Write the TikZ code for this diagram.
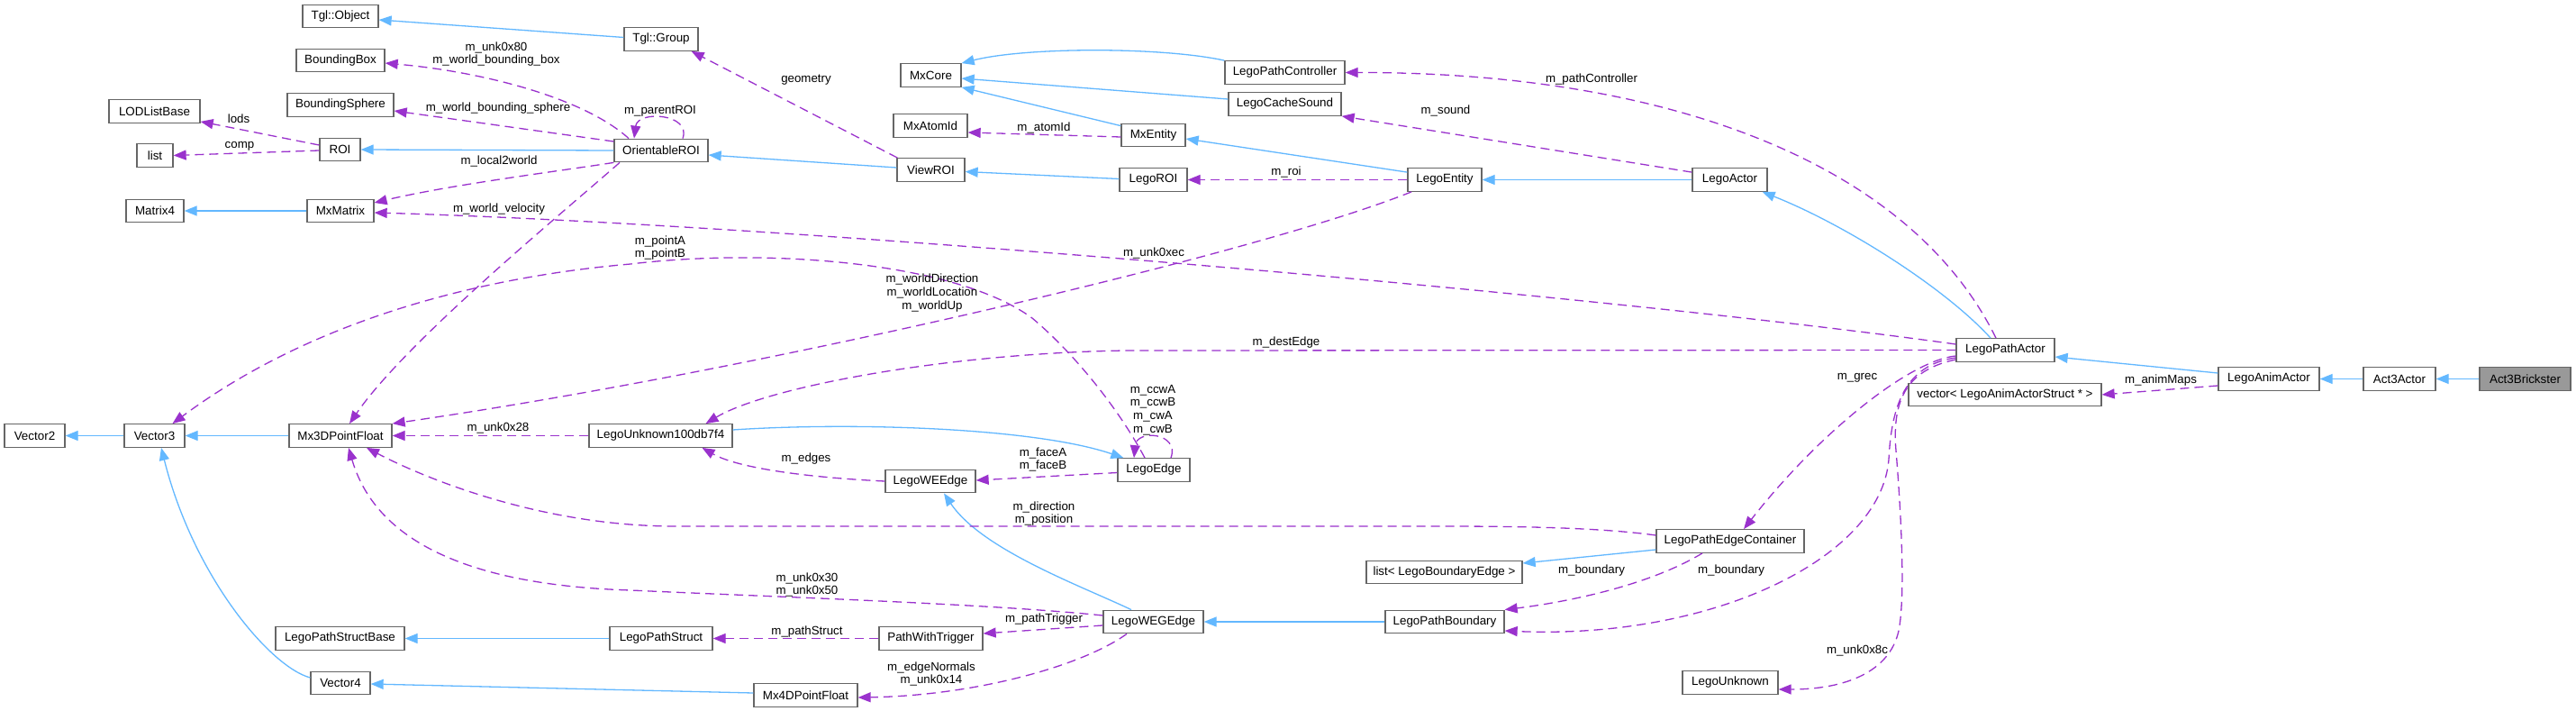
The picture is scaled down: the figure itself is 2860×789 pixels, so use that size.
\documentclass[tikz,border=0pt]{standalone}
\usepackage{fontspec}
\setmainfont{Liberation Sans}
\usetikzlibrary{arrows.meta}
\definecolor{inhc}{HTML}{63B8FF}
\definecolor{usec}{HTML}{9A32CD}
\definecolor{boxc}{HTML}{666666}
\definecolor{selc}{HTML}{999999}
\begin{document}
\begin{tikzpicture}[x=1pt,y=-1pt,
 cls/.style={draw=boxc,line width=1.3pt,fill=white,minimum height=25.5pt,inner sep=0pt,font=\fontsize{13.4}{15}\selectfont,anchor=center},
 inh/.style={draw=inhc,line width=1.3pt,-{Triangle[length=14pt,width=11pt]}},
 use/.style={draw=usec,line width=1.3pt,dash pattern=on 10pt off 6pt,-{Triangle[length=14pt,width=11pt]}},
 lbl/.style={font=\fontsize{13.3}{14.7}\selectfont,align=center,inner sep=0pt}]
\fill[white] (0,0) rectangle (2860,789);
\useasboundingbox (0,0) rectangle (2860,789);

% ---------- nodes ----------
\node[cls,minimum width=84pt] (tglobj) at (378,18) {Tgl::Object};
\node[cls,minimum width=98pt] (bbox) at (378,67) {BoundingBox};
\node[cls,minimum width=118pt] (bsph) at (378,116.5) {BoundingSphere};
\node[cls,minimum width=101pt] (lod) at (171.5,123.5) {LODListBase};
\node[cls,minimum width=40pt] (list) at (172,172.5) {list};
\node[cls,minimum width=45pt] (roi) at (377.5,166) {ROI};
\node[cls,minimum width=64pt] (mat4) at (172,234) {Matrix4};
\node[cls,minimum width=74pt] (mxmat) at (378,234) {MxMatrix};
\node[cls,minimum width=104pt] (orient) at (734,167) {OrientableROI};
\node[cls,minimum width=82pt] (tglgrp) at (734,43.5) {Tgl::Group};
\node[cls,minimum width=67pt] (mxcore) at (1033.5,83.5) {MxCore};
\node[cls,minimum width=82pt] (atom) at (1033,139.5) {MxAtomId};
\node[cls,minimum width=71pt] (mxent) at (1280.5,150) {MxEntity};
\node[cls,minimum width=75pt] (viewroi) at (1033.5,188.5) {ViewROI};
\node[cls,minimum width=75pt] (legoroi) at (1280.5,199.5) {LegoROI};
\node[cls,minimum width=133pt] (pathctl) at (1426.5,80.5) {LegoPathController};
\node[cls,minimum width=125pt] (csound) at (1426.5,115.5) {LegoCacheSound};
\node[cls,minimum width=82pt] (entity) at (1604,199.5) {LegoEntity};
\node[cls,minimum width=83pt] (actor) at (1920.5,199.5) {LegoActor};
\node[cls,minimum width=109pt] (pactor) at (2226.5,388.5) {LegoPathActor};
\node[cls,minimum width=214pt] (vec) at (2226,438) {vector< LegoAnimActorStruct * >};
\node[cls,minimum width=112pt] (anim) at (2519,420.5) {LegoAnimActor};
\node[cls,minimum width=80pt] (act3) at (2664,420.5) {Act3Actor};
\node[cls,minimum width=101pt,fill=selc] (brick) at (2803.5,420.5) {Act3Brickster};
\node[cls,minimum width=67pt] (v2) at (38.5,483.5) {Vector2};
\node[cls,minimum width=67pt] (v3) at (171.5,483.5) {Vector3};
\node[cls,minimum width=114pt] (p3d) at (378,483.5) {Mx3DPointFloat};
\node[cls,minimum width=159pt] (lu) at (733.5,483.5) {LegoUnknown100db7f4};
\node[cls,minimum width=143pt] (psbase) at (377.5,708.5) {LegoPathStructBase};
\node[cls,minimum width=114pt] (pstruct) at (734,708.5) {LegoPathStruct};
\node[cls,minimum width=66pt] (v4) at (378,758) {Vector4};
\node[cls,minimum width=80pt] (edge) at (1281,521.5) {LegoEdge};
\node[cls,minimum width=100pt] (weedge) at (1033,534) {LegoWEEdge};
\node[cls,minimum width=111pt] (wegedge) at (1280.5,690) {LegoWEGEdge};
\node[cls,minimum width=115pt] (pwt) at (1033.5,708.5) {PathWithTrigger};
\node[cls,minimum width=115pt] (p4d) at (894.5,771.5) {Mx4DPointFloat};
\node[cls,minimum width=164pt] (pec) at (1921,600.5) {LegoPathEdgeContainer};
\node[cls,minimum width=173pt] (lbe) at (1603.5,635) {list< LegoBoundaryEdge >};
\node[cls,minimum width=132pt] (pbound) at (1604,690) {LegoPathBoundary};
\node[cls,minimum width=106pt] (lunk) at (1921,757.5) {LegoUnknown};

% ---------- inheritance ----------
\draw[inh] ([yshift=2pt]tglgrp.west) -- ([yshift=-4pt]tglobj.east);
\draw[inh] (orient.west) -- (roi.east);
\draw[inh] (mxmat.west) -- (mat4.east);
\draw[inh] ([yshift=2.5pt]viewroi.west) -- ([yshift=-5pt]orient.east);
\draw[inh] ([yshift=1pt]legoroi.west) -- ([yshift=-2pt]viewroi.east);
\draw[inh] ([yshift=-3pt]mxent.north west) -- (mxcore.south east);
\draw[inh] (pathctl.north west) .. controls (1290,52) and (1140,52) .. (mxcore.north east);
\draw[inh] ([yshift=5.5pt]csound.west) -- ([yshift=-3.5pt]mxcore.east);
\draw[inh] ([yshift=-5pt]entity.north west) -- ([yshift=-4pt]mxent.east);
\draw[inh] (actor.west) -- (entity.east);
\draw[inh] ([xshift=-16.5pt]pactor.north) .. controls (2160,320) and (2050,250) .. ([xshift=-6pt]actor.south east);
\draw[inh] ([yshift=6.5pt]anim.west) -- ([yshift=-7.5pt]pactor.east);
\draw[inh] (act3.west) -- (anim.east);
\draw[inh] (brick.west) -- (act3.east);
\draw[inh] (v3.west) -- (v2.east);
\draw[inh] (p3d.west) -- (v3.east);
\draw[inh] ([yshift=6pt]v4.west) .. controls (300,740) and (215,640) .. ([xshift=7.5pt]v3.south);
\draw[inh] ([yshift=2.5pt]p4d.west) -- ([yshift=-1pt]v4.east);
\draw[inh] (pstruct.west) -- (psbase.east);
\draw[inh] ([yshift=6.5pt]lu.east) .. controls (950,468) and (1150,475) .. ([xshift=7pt]edge.north west);
\draw[inh] ([xshift=-24.5pt]wegedge.north) .. controls (1200,650) and (1090,610) .. ([xshift=15pt]weedge.south);
\draw[inh] (pbound.west) -- (wegedge.east);
\draw[inh] ([yshift=-9.5pt]pec.west) -- ([yshift=10pt]lbe.east);

% ---------- usage ----------
\draw[use] ([xshift=-36pt]orient.north) .. controls (650,110) and (540,80) .. ([yshift=-3pt]bbox.east);
\draw[use] ([yshift=10pt]orient.west) -- ([yshift=-6.5pt]bsph.east);
\draw[use] ([yshift=5pt]roi.west) -- ([yshift=2pt]lod.south east);
\draw[use] ([yshift=-1pt]roi.west) -- (list.east);
\draw[use] (orient.south west) .. controls (620,190) and (500,205) .. ([yshift=9pt]mxmat.east);
\draw[use] ([xshift=24pt]orient.north) .. controls (768,126) and (708,122) .. ([xshift=-30pt]orient.north);
\draw[use] ([xshift=-46pt]orient.south) .. controls (620,240) and (450,380) .. ([xshift=10pt]p3d.north);
\draw[use] ([yshift=6.5pt]pactor.west) .. controls (1800,330) and (900,250) .. ([yshift=-2pt]mxmat.east);
\draw[use] ([xshift=-10pt]edge.north) .. controls (1240,450) and (1190,390) .. (1146,353)
  .. controls (1060,290) and (850,275) .. (700,293)
  .. controls (560,305) and (360,345) .. ([xshift=20pt]v3.north);
\draw[use] ([xshift=-37pt]entity.south) .. controls (1400,280) and (850,410) .. (p3d.north east);
\draw[use] (pactor.west) -- (1250,389) .. controls (1050,392) and (850,430) .. ([xshift=50pt]lu.north);
\draw[use] (lu.west) -- (p3d.east);
\draw[use] (weedge.west) .. controls (900,530) and (820,520) .. ([xshift=46pt]lu.south);
\draw[use] ([yshift=-3pt]edge.west) -- ([yshift=1pt]weedge.east);
\draw[use] ([xshift=19pt]edge.north) .. controls (1310,480) and (1262,476) .. ([xshift=-22pt]edge.north);
\draw[use] ([yshift=6.5pt]pec.west) .. controls (1780,586) and (1700,584) .. (1600,584) -- (750,584)
  .. controls (600,584) and (470,530) .. ([xshift=29pt]p3d.south);
\draw[use] ([yshift=7pt]wegedge.west) .. controls (1100,670) and (850,662) .. (700,655)
  .. controls (540,650) and (420,610) .. ([xshift=9pt]p3d.south);
\draw[use] ([yshift=-4pt]wegedge.west) -- ([yshift=5.5pt]pwt.east);
\draw[use] (pwt.west) -- (pstruct.east);
\draw[use] ([xshift=-29.5pt]wegedge.south) .. controls (1200,740) and (1080,772) .. ([yshift=-2.5pt]p4d.east);
\draw[use] ([yshift=-6.5pt]pactor.west) .. controls (2120,400) and (2020,480) .. ([xshift=15pt]pec.north);
\draw[use] ([yshift=-8.5pt]pactor.west) .. controls (2115,405) and (2100,450) .. (2097,510)
  .. controls (2088,620) and (1900,710) .. ([yshift=-10pt]pbound.east);
\draw[use] ([xshift=-31pt]pec.south) .. controls (1830,650) and (1740,668) .. (pbound.north east);
\draw[use] ([yshift=-10.5pt]pactor.west) .. controls (2120,410) and (2100,440) .. (2105,500)
  .. controls (2110,560) and (2116,660) .. (2108,700)
  .. controls (2098,745) and (2050,765) .. ([yshift=-7.5pt]lunk.east);
\draw[use] ([yshift=-7.5pt]anim.west) -- (vec.east);
\draw[use] (entity.west) -- (legoroi.east);
\draw[use] ([yshift=-2pt]mxent.west) -- ([yshift=-7.5pt]atom.east);
\draw[use] ([xshift=1pt]viewroi.north west) -- ([xshift=-8pt]tglgrp.south east);
\draw[use] ([yshift=-5pt]actor.north west) -- (csound.south east);
\draw[use] ([xshift=-10.5pt]pactor.north) .. controls (2120,180) and (1850,80) .. (pathctl.east);

% ---------- labels ----------
\node[lbl] (l1) at (551,60) {m\_unk0x80\\m\_world\_bounding\_box};
\node[lbl] (l2) at (553,120) {m\_world\_bounding\_sphere};
\node[lbl] (l3) at (265,132) {lods};
\node[lbl] (l4) at (266,162) {comp};
\node[lbl] (l5) at (554,179) {m\_local2world};
\node[lbl] (l6) at (554,232) {m\_world\_velocity};
\node[lbl] (l7) at (733,123) {m\_parentROI};
\node[lbl] (l8) at (895,89) {geometry};
\node[lbl] (l9) at (1159,142) {m\_atomId};
\node[lbl] (l10) at (1428,191) {m\_roi};
\node[lbl] (l11) at (1605,123) {m\_sound};
\node[lbl] (l12) at (1767,88) {m\_pathController};
\node[lbl] (l13) at (1281,281) {m\_unk0xec};
\node[lbl] (l14) at (733,275) {m\_pointA\\m\_pointB};
\node[lbl] (l15) at (1035,325) {m\_worldDirection\\m\_worldLocation\\m\_worldUp};
\node[lbl] (l16) at (1428,380) {m\_destEdge};
\node[lbl] (l17) at (553,475) {m\_unk0x28};
\node[lbl] (l18) at (895,509) {m\_edges};
\node[lbl] (l19) at (1158,510) {m\_faceA\\m\_faceB};
\node[lbl] (l20) at (1280,455) {m\_ccwA\\m\_ccwB\\m\_cwA\\m\_cwB};
\node[lbl] (l21) at (1159,570) {m\_direction\\m\_position};
\node[lbl] (l22) at (896,649) {m\_unk0x30\\m\_unk0x50};
\node[lbl] (l23) at (1159,687) {m\_pathTrigger};
\node[lbl] (l24) at (896,701) {m\_pathStruct};
\node[lbl] (l25) at (1034,748) {m\_edgeNormals\\m\_unk0x14};
\node[lbl] (l26) at (2062,419) {m\_grec};
\node[lbl] (l27) at (1767,633) {m\_boundary};
\node[lbl] (l28) at (1922,633) {m\_boundary};
\node[lbl] (l29) at (2062,722) {m\_unk0x8c};
\node[lbl] (l30) at (2399,422) {m\_animMaps};
\end{tikzpicture}
\end{document}
